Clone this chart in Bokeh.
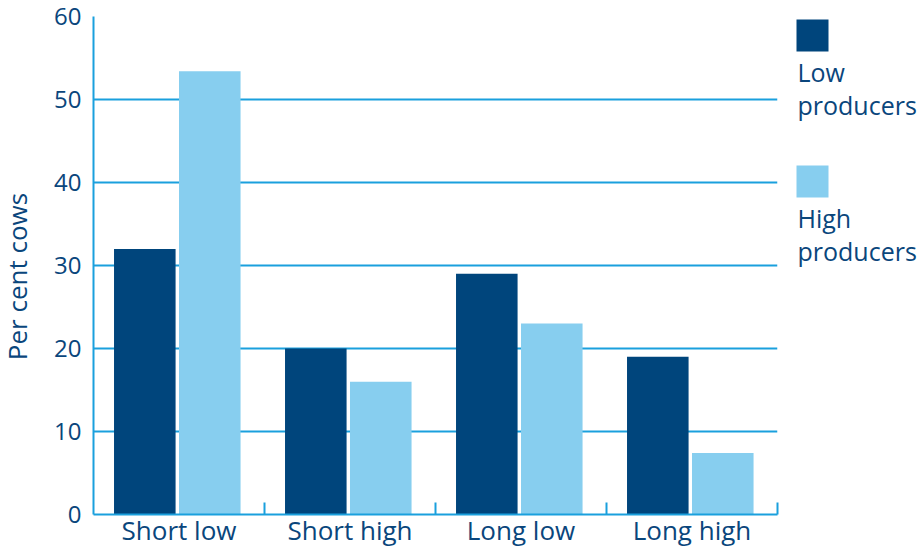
import math
from bokeh.plotting import figure
from bokeh.models import Range1d, FixedTicker, ColumnDataSource
from bokeh.layouts import row
from bokeh.embed import file_html
from bokeh.resources import INLINE
from bokeh.core.properties import value
from bokeh.transform import dodge

# ---- data ----
categories = ["Short low", "Short high", "Long low", "Long high"]
low_producers = [32, 20, 29, 19]
high_producers = [53.4, 16, 23, 7.4]
series_names = ["Low producers", "High producers"]
y_ticks = [0, 10, 20, 30, 40, 50, 60]
y_label = "Per cent cows"

# ---- style ----
DARK = "#00457C"
LIGHT = "#87CEEF"
GRID = "#1AA0DD"
TEXT = "#0A467C"
FONT = "Open Sans"
H = 550
LW = 40      # y-label panel width
MW = 739     # main figure width
RW = 141     # legend panel width
TOP, BOTTOM = 16, 36   # main frame borders (side panels share the frame rows)

# ---- y label panel (y in page pixels, bottom-up) ----
yl = figure(width=LW, height=H, x_range=Range1d(0, LW), y_range=Range1d(BOTTOM, H - TOP),
            output_backend="svg", toolbar_location=None, min_border=0,
            x_axis_location=None, y_axis_location=None)
yl.outline_line_color = None
yl.grid.visible = False
yl.text(x=[16], y=[H - 276], text=[y_label], angle=math.pi / 2,
        text_font=value(FONT), text_font_size="26px", text_color=TEXT,
        text_align="center", text_baseline="middle")

# ---- main chart ----
pos = [i + 0.5 for i in range(len(categories))]
bounds = [i + 1 for i in range(len(categories))]
src = ColumnDataSource(dict(x=pos, low=low_producers, high=high_producers))

p = figure(width=MW, height=H,
           x_range=Range1d(0, len(categories)), y_range=Range1d(y_ticks[0], y_ticks[-1]),
           output_backend="svg", toolbar_location=None,
           min_border_left=53, min_border_right=2, min_border_top=TOP, min_border_bottom=BOTTOM)
p.outline_line_color = None
p.background_fill_color = "white"

p.vbar(x=dodge("x", -0.2, range=p.x_range), top="low", width=0.36, source=src,
       fill_color=DARK, line_color=None)
p.vbar(x=dodge("x", 0.18, range=p.x_range), top="high", width=0.36, source=src,
       fill_color=LIGHT, line_color=None)

xa = p.xaxis[0]
xa.ticker = FixedTicker(ticks=pos, minor_ticks=bounds)
xa.major_label_overrides = {pos[i]: categories[i] for i in range(len(categories))}
xa.major_tick_in = 0
xa.major_tick_out = 0
xa.minor_tick_in = 12
xa.minor_tick_out = 0
xa.minor_tick_line_color = GRID
xa.minor_tick_line_width = 2
xa.axis_line_color = GRID
xa.axis_line_width = 2
xa.major_label_text_font = FONT
xa.major_label_text_font_size = "26px"
xa.major_label_text_color = TEXT
xa.major_label_standoff = -3

ya = p.yaxis[0]
ya.ticker = FixedTicker(ticks=y_ticks, minor_ticks=[])
ya.major_tick_in = 0
ya.major_tick_out = 0
ya.minor_tick_in = 0
ya.minor_tick_out = 0
ya.axis_line_color = GRID
ya.axis_line_width = 2
ya.major_label_text_font = FONT
ya.major_label_text_font_size = "24px"
ya.major_label_text_color = TEXT
ya.major_label_standoff = 12

p.xgrid.visible = False
p.ygrid.ticker = FixedTicker(ticks=y_ticks, minor_ticks=[])
p.ygrid.grid_line_color = GRID
p.ygrid.grid_line_width = 2

# ---- legend panel (y in page pixels, top-down) ----
lg = figure(width=RW, height=H, x_range=Range1d(0, RW), y_range=Range1d(H - BOTTOM, TOP),
            output_backend="svg", toolbar_location=None, min_border=0,
            x_axis_location=None, y_axis_location=None)
lg.outline_line_color = None
lg.grid.visible = False
colors = [DARK, LIGHT]
for i, name in enumerate(series_names):
    off = 146 * i
    lg.rect(x=[33], y=[35 + off], width=32, height=32, fill_color=colors[i], line_color=None)
    words = name.split(" ")
    lg.text(x=[18] * len(words), y=[71 + off + 33 * k for k in range(len(words))], text=words,
            text_font=value(FONT), text_font_size="25px", text_color=TEXT,
            text_baseline="alphabetic", text_align="left")

layout = row(yl, p, lg)
open("out.html", "w").write(file_html(layout, INLINE))
